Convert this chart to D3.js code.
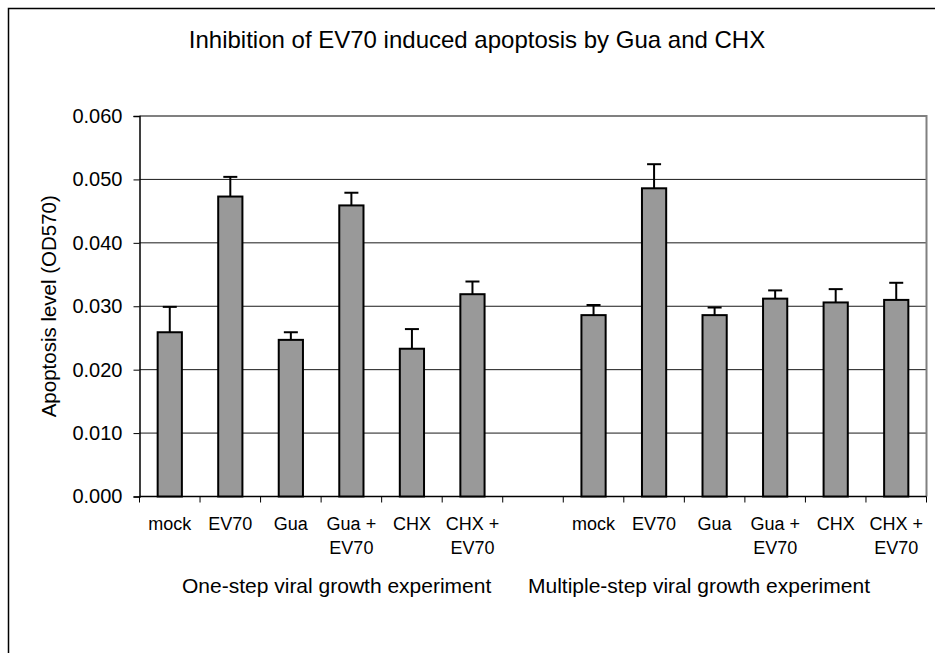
<!DOCTYPE html>
<html>
<head>
<meta charset="utf-8">
<script src="https://cdn.jsdelivr.net/npm/d3@7"></script>
<style>
  html, body { margin: 0; padding: 0; background: #fff; }
  svg { display: block; }
  text { font-family: "Liberation Sans", Arial, sans-serif; fill: #000; }
</style>
</head>
<body>
<svg id="chart" width="935" height="653"></svg>
<script>
// ---- data ----
const title = "Inhibition of EV70 induced apoptosis by Gua and CHX";
const yAxisTitle = "Apoptosis level (OD570)";
const categories = ["mock", "EV70", "Gua", "Gua + EV70", "CHX", "CHX + EV70"];
const groupNames = ["One-step viral growth experiment", "Multiple-step viral growth experiment"];
const oneStepValues = [0.0259, 0.0473, 0.0247, 0.0459, 0.0233, 0.0319];
const oneStepErrors = [0.0040, 0.0031, 0.0012, 0.0020, 0.0031, 0.0020];
const multiStepValues = [0.0286, 0.0486, 0.0286, 0.0312, 0.0306, 0.0310];
const multiStepErrors = [0.0016, 0.0038, 0.0012, 0.0013, 0.0021, 0.0027];
const yTicks = [0, 0.01, 0.02, 0.03, 0.04, 0.05, 0.06];

(function () {
// ---- build slots: 6 + empty gap + 6 ----
const rows = [];
categories.forEach((c, i) => rows.push({ key: "g1-" + i, label: c, value: oneStepValues[i], err: oneStepErrors[i] }));
rows.push({ key: "gap", label: "", value: null, err: null });
categories.forEach((c, i) => rows.push({ key: "g2-" + i, label: c, value: multiStepValues[i], err: multiStepErrors[i] }));

const svg = d3.select("#chart");
const plotLeft = 139.5, plotRight = 926.5, plotTop = 116, plotBottom = 496.5;

// outer frame (only top/left visible)
svg.append("rect").attr("x", 8.5).attr("y", 8.5).attr("width", 960).attr("height", 700)
  .attr("fill", "none").attr("stroke", "#000").attr("stroke-width", 1.5);

const x = d3.scaleBand().domain(rows.map(d => d.key)).range([plotLeft, plotRight])
  .paddingInner(0.6).paddingOuter(0.3);
const y = d3.scaleLinear().domain([0, 0.06]).range([plotBottom, plotTop]);
const step = x.step();
const offset = (step - x.bandwidth()) / 2;

// gridlines
svg.append("g").selectAll("line").data(yTicks.filter(t => t > 0 && t < 0.06)).join("line")
  .attr("x1", plotLeft).attr("x2", plotRight)
  .attr("y1", d => y(d)).attr("y2", d => y(d))
  .attr("stroke", "#1a1a1a").attr("stroke-width", 1);

// plot border (top / right gray)
svg.append("path")
  .attr("d", `M${plotLeft},${y(0.06)}H${plotRight}V${plotBottom}`)
  .attr("fill", "none").attr("stroke", "#808080").attr("stroke-width", 2);

// y axis
const yAxis = d3.axisLeft(y).tickValues(yTicks).tickFormat(d3.format(".3f")).tickSize(6).tickPadding(11);
const yg = svg.append("g").attr("transform", `translate(${plotLeft},0)`).call(yAxis);
yg.select(".domain").attr("stroke", "#000").attr("stroke-width", 1.5);
yg.selectAll(".tick line").attr("stroke", "#000").attr("stroke-width", 1);
yg.selectAll(".tick text").attr("font-size", "20px").attr("font-family", "Liberation Sans, Arial, sans-serif").attr("fill", "#000");

// x axis line + ticks at slot boundaries
const boundaries = rows.map(d => x(d.key) - offset).concat([x(rows[rows.length - 1].key) - offset + step]);
svg.append("line").attr("x1", plotLeft).attr("x2", plotRight).attr("y1", plotBottom).attr("y2", plotBottom)
  .attr("stroke", "#000").attr("stroke-width", 1.5);
svg.append("g").selectAll("line").data(boundaries).join("line")
  .attr("x1", d => d).attr("x2", d => d).attr("y1", plotBottom).attr("y2", plotBottom + 6)
  .attr("stroke", "#000").attr("stroke-width", 1);

// bars
const bars = rows.filter(d => d.value != null);
svg.append("g").selectAll("rect").data(bars).join("rect")
  .attr("x", d => x(d.key)).attr("width", x.bandwidth())
  .attr("y", d => y(d.value)).attr("height", d => y(0) - y(d.value))
  .attr("fill", "#999999").attr("stroke", "#000").attr("stroke-width", 2);

// error bars (upper only)
const eg = svg.append("g").attr("stroke", "#000").attr("stroke-width", 2);
bars.forEach(d => {
  const cx = x(d.key) + x.bandwidth() / 2;
  eg.append("line").attr("x1", cx).attr("x2", cx).attr("y1", y(d.value)).attr("y2", y(d.value + d.err));
  eg.append("line").attr("x1", cx - 7).attr("x2", cx + 7).attr("y1", y(d.value + d.err)).attr("y2", y(d.value + d.err));
});

// category labels
const lg = svg.append("g").attr("font-size", "18px").attr("text-anchor", "middle");
rows.filter(d => d.label).forEach(d => {
  const cx = x(d.key) + x.bandwidth() / 2;
  const parts = d.label.includes(" + ") ? [d.label.split(" + ")[0] + " +", d.label.split(" + ")[1]] : [d.label];
  const t = lg.append("text").attr("x", cx).attr("y", 530);
  parts.forEach((p, i) => t.append("tspan").attr("x", cx).attr("y", 530 + i * 24).text(p));
});

// group titles
svg.append("text").attr("x", 182).attr("y", 593).attr("font-size", "21px").text(groupNames[0]);
svg.append("text").attr("x", 528).attr("y", 593).attr("font-size", "21px").text(groupNames[1]);

// y axis title
svg.append("text").attr("transform", `translate(56,${(plotTop + plotBottom) / 2}) rotate(-90)`)
  .attr("text-anchor", "middle").attr("font-size", "20.5px").text(yAxisTitle);

// chart title
svg.append("text").attr("x", 477).attr("y", 48).attr("text-anchor", "middle")
  .attr("font-size", "24px").text(title);
})();
</script>
</body>
</html>
